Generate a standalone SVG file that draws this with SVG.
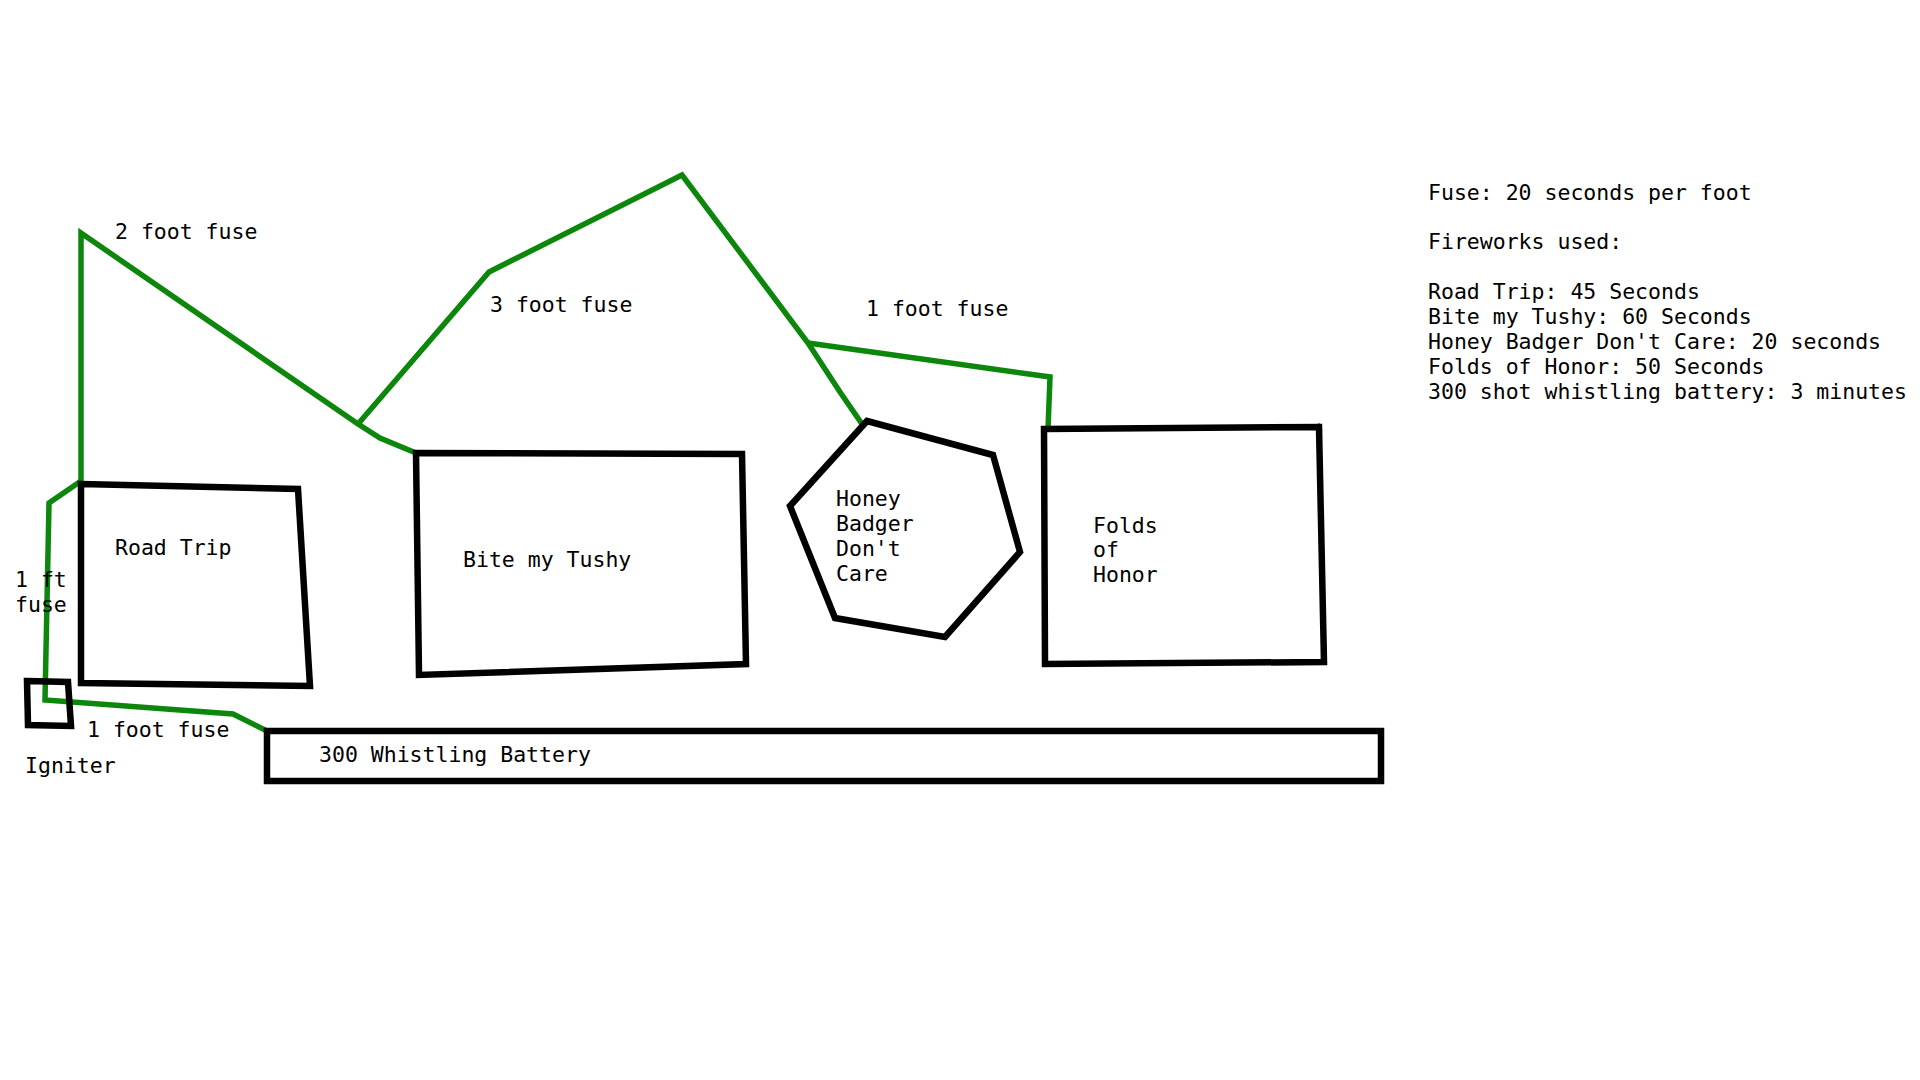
<svg xmlns="http://www.w3.org/2000/svg" width="1920" height="1080" viewBox="0 0 1920 1080">
<style>
.box{fill:none;stroke:#000;stroke-width:6.5;stroke-linejoin:miter;stroke-linecap:square}
.fuse{fill:none;stroke:#0c870c;stroke-width:5.5;stroke-linejoin:miter;stroke-linecap:butt}
text{font-family:"DejaVu Sans Mono","Liberation Mono",monospace;font-size:21.5px;fill:#000}
</style>
<rect width="1920" height="1080" fill="#fff"/>
<g id="connectors">
<polyline class="fuse" points="81,481 81,233 358,424 380,438 416,453"/>
<polyline class="fuse" points="358,424 489,272 682,175 808,343 840,392 862,424"/>
<polyline class="fuse" points="808,343 1050,377 1048,429"/>
<polyline class="fuse" points="81,481 49,503 45,700 233,714 267,731"/>
<polyline class="fuse" points="1317,424 1320,431"/>
<text x="115" y="239">2 foot fuse</text>
<text x="490" y="312">3 foot fuse</text>
<text x="866" y="316">1 foot fuse</text>
<text x="15" y="587">1 ft</text>
<text x="15" y="612">fuse</text>
<text x="87" y="737">1 foot fuse</text>
</g>
<g id="road-trip">
<polygon class="box" points="81,484 298,489 310,686 81,683"/>
<text x="115" y="555">Road Trip</text>
</g>
<g id="bite-my-tushy">
<polygon class="box" points="416,453 742,454 746,664 419,675"/>
<text x="463" y="567">Bite my Tushy</text>
</g>
<g id="honey-badger">
<polygon class="box" points="867,421 993,455 1020,552 945,637 835,618 790,506"/>
<text x="836" y="506">Honey</text>
<text x="836" y="531">Badger</text>
<text x="836" y="556">Don't</text>
<text x="836" y="581">Care</text>
</g>
<g id="folds-of-honor">
<polygon class="box" points="1044,429 1319,427 1324,662 1045,664"/>
<text x="1093" y="533">Folds</text>
<text x="1093" y="557">of</text>
<text x="1093" y="582">Honor</text>
</g>
<g id="igniter">
<polygon class="box" points="27,681 68,682 71,726 28,725"/>
<text x="25" y="773">Igniter</text>
</g>
<g id="whistling-battery">
<polygon class="box" points="267,731 1381,731 1381,781 267,781"/>
<text x="319" y="762">300 Whistling Battery</text>
</g>
<g id="legend">
<text x="1428" y="200">Fuse: 20 seconds per foot</text>
<text x="1428" y="249">Fireworks used:</text>
<text x="1428" y="299">Road Trip: 45 Seconds</text>
<text x="1428" y="324">Bite my Tushy: 60 Seconds</text>
<text x="1428" y="349">Honey Badger Don't Care: 20 seconds</text>
<text x="1428" y="374">Folds of Honor: 50 Seconds</text>
<text x="1428" y="399">300 shot whistling battery: 3 minutes</text>
</g>
</svg>
